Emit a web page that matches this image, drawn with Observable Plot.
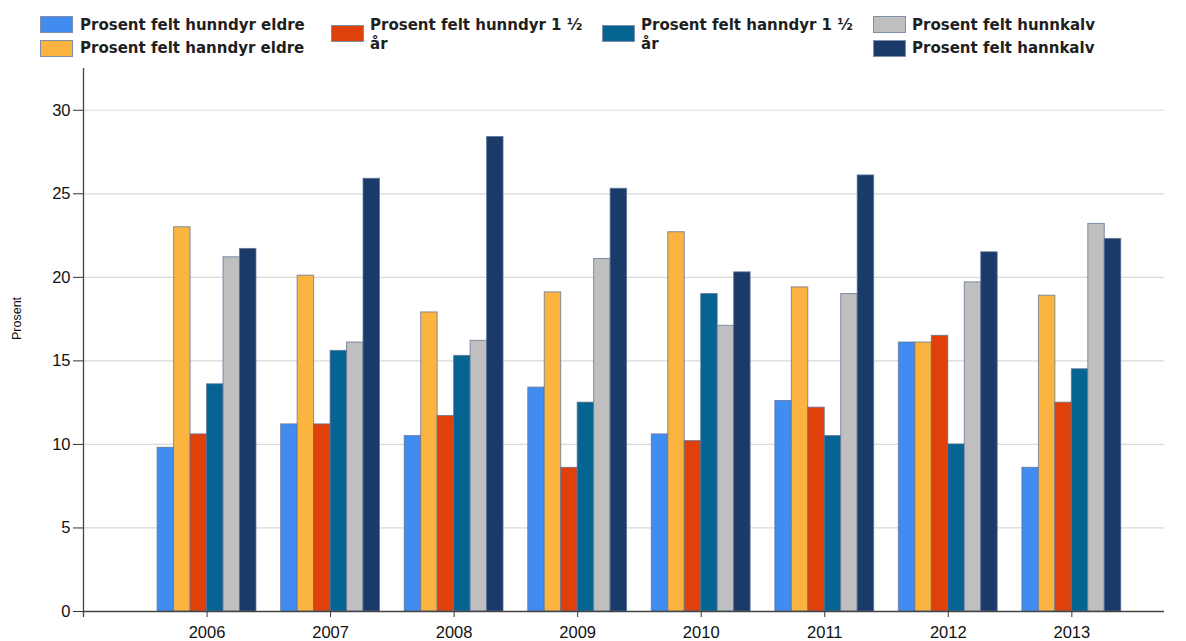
<!DOCTYPE html>
<html>
<head>
<meta charset="utf-8">
<script src="https://cdn.jsdelivr.net/npm/d3@7"></script>
<script src="https://cdn.jsdelivr.net/npm/@observablehq/plot@0.6"></script>
<style>
  html, body { margin: 0; padding: 0; background: #fff; }
  #wrap { position: relative; width: 1186px; height: 641px; overflow: hidden; }
  #legend { position: relative; width: 1186px; height: 62px; }
  .sw { position: absolute; width: 31px; height: 15px; border: 1px solid #7f8fa9; }
  .lt { position: absolute; font-family: "DejaVu Sans Condensed", "DejaVu Sans", sans-serif; font-stretch: condensed;
        font-weight: bold; font-size: 16.7px; line-height: 19px; color: #1f1f1f; white-space: nowrap; }
  svg { display: block; }
</style>
</head>
<body>
<div id="wrap">
  <div id="legend"></div>
  <div id="chart"></div>
</div>
<script>
const years = [2006, 2007, 2008, 2009, 2010, 2011, 2012, 2013];
const seriesNames = [
  "Prosent felt hunndyr eldre",
  "Prosent felt hanndyr eldre",
  "Prosent felt hunndyr 1 ½ år",
  "Prosent felt hanndyr 1 ½ år",
  "Prosent felt hunnkalv",
  "Prosent felt hannkalv"
];
const seriesColors = ["#418CF0", "#FCB441", "#E0400A", "#056492", "#BFBFBF", "#1A3B69"];
const hunndyrEldre = [9.8, 11.2, 10.5, 13.4, 10.6, 12.6, 16.1, 8.6];
const hanndyrEldre = [23.0, 20.1, 17.9, 19.1, 22.7, 19.4, 16.1, 18.9];
const hunndyr15 = [10.6, 11.2, 11.7, 8.6, 10.2, 12.2, 16.5, 12.5];
const hanndyr15 = [13.6, 15.6, 15.3, 12.5, 19.0, 10.5, 10.0, 14.5];
const hunnkalv = [21.2, 16.1, 16.2, 21.1, 17.1, 19.0, 19.7, 23.2];
const hannkalv = [21.7, 25.9, 28.4, 25.3, 20.3, 26.1, 21.5, 22.3];
const yTicks = [0, 5, 10, 15, 20, 25, 30];

const seriesValues = [hunndyrEldre, hanndyrEldre, hunndyr15, hanndyr15, hunnkalv, hannkalv];
const table = [];
seriesValues.forEach((vals, s) => {
  vals.forEach((v, i) => table.push({year: years[i], series: seriesNames[s], s, value: v}));
});

// Legend (HTML, above the SVG)
const legendItems = [
  {s: 0, sx: 40, sy: 16, tx: 80, ty: 14.6, html: "Prosent felt hunndyr eldre"},
  {s: 1, sx: 40, sy: 40, tx: 80, ty: 37.6, html: "Prosent felt hanndyr eldre"},
  {s: 2, sx: 331, sy: 25, tx: 370, ty: 14.6, html: "Prosent felt hunndyr 1 ½<br>år"},
  {s: 3, sx: 602, sy: 25, tx: 641, ty: 14.6, html: "Prosent felt hanndyr 1 ½<br>år"},
  {s: 4, sx: 873, sy: 16, tx: 912, ty: 14.6, html: "Prosent felt hunnkalv"},
  {s: 5, sx: 873, sy: 40, tx: 912, ty: 37.6, html: "Prosent felt hannkalv"}
];
const legend = document.getElementById("legend");
for (const it of legendItems) {
  const sw = document.createElement("div");
  sw.className = "sw";
  sw.style.left = it.sx + "px";
  sw.style.top = it.sy + "px";
  sw.style.background = seriesColors[it.s];
  legend.appendChild(sw);
  const t = document.createElement("div");
  t.className = "lt";
  t.style.left = it.tx + "px";
  t.style.top = it.ty + "px";
  t.innerHTML = it.html;
  legend.appendChild(t);
}

const groupWidth = 0.8;
const barW = groupWidth / seriesNames.length;

const chart = Plot.plot({
  width: 1186,
  height: 579,
  marginLeft: 83,
  marginRight: 22,
  marginTop: 6,
  marginBottom: 30,
  style: {fontFamily: "'Liberation Sans', Arial, sans-serif", background: "#fff", color: "#111"},
  x: {type: "linear", domain: [2005, 2013.75]},
  y: {domain: [0, 32.5]},
  color: {domain: seriesNames, range: seriesColors},
  marks: [
    Plot.gridY(yTicks.filter(t => t > 0), {stroke: "#d9d9d9", strokeOpacity: 1, strokeWidth: 1.2}),
    Plot.rectY(table, {
      x1: d => d.year - groupWidth / 2 + d.s * barW,
      x2: d => d.year - groupWidth / 2 + (d.s + 1) * barW,
      y1: 0,
      y2: "value",
      fill: "series",
      stroke: "#5d7095",
      strokeOpacity: 0.75,
      strokeWidth: 1,
      inset: 0
    }),
    Plot.axisX(years, {tickSize: 6, tickPadding: 9, tickFormat: d => String(d), fontSize: 16.5, stroke: "#333", fill: "#111", label: null}),
    Plot.axisY(yTicks, {tickSize: 10, tickPadding: 3, fontSize: 16.5, stroke: "#333", fill: "#111", label: null}),
    Plot.ruleY([0], {stroke: "#444", strokeWidth: 1.3}),
    Plot.ruleX([2005], {stroke: "#444", strokeWidth: 1.3, insetBottom: -6}),
    Plot.text(["Prosent"], {frameAnchor: "left", rotate: -90, dx: -67, fontSize: 12.5, fill: "#111"})
  ]
});
document.getElementById("chart").appendChild(chart);
</script>
</body>
</html>
